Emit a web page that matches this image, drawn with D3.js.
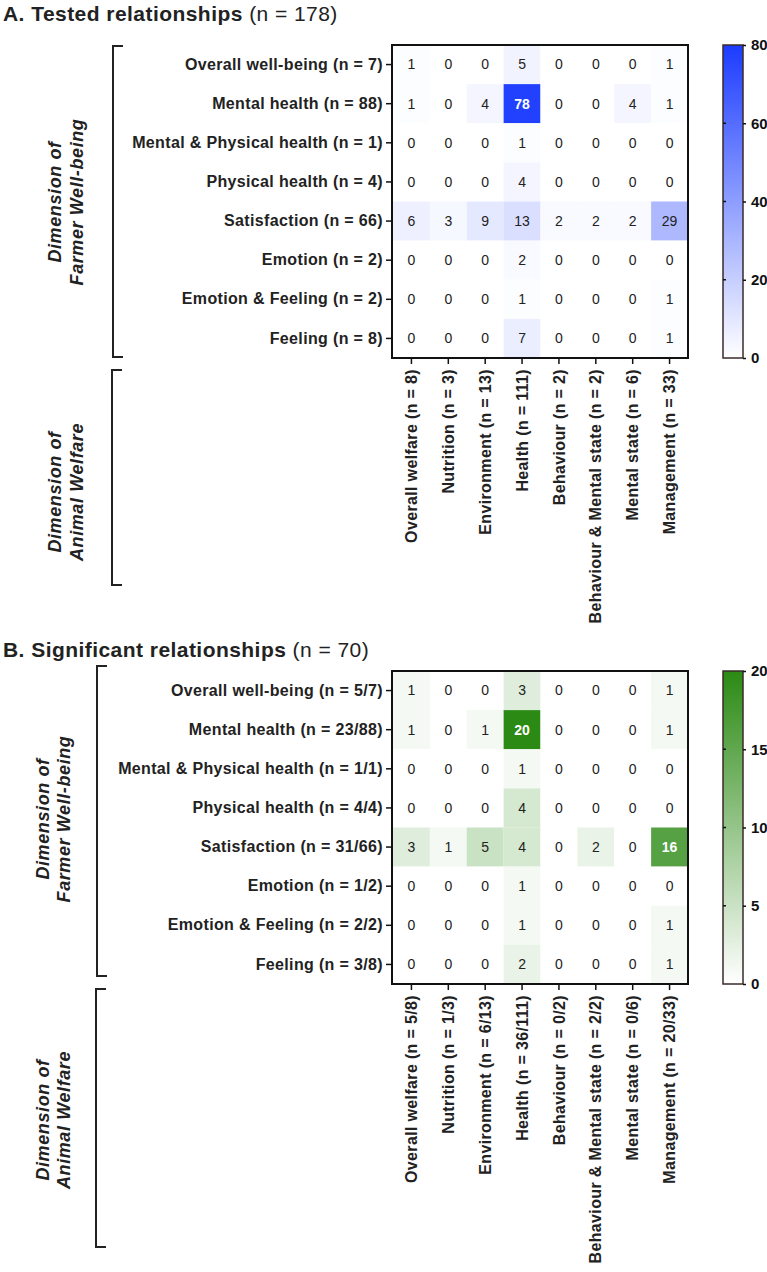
<!DOCTYPE html>
<html>
<head>
<meta charset="utf-8">
<script src="https://cdn.jsdelivr.net/npm/d3@7"></script>
<style>
	body { margin: 0; background: #fff; }
	svg { font-family: "Liberation Sans", Arial, sans-serif; }
</style>
</head>
<body>
<script>
// data
var rowsA = ["Overall well-being (n = 7)", "Mental health (n = 88)", "Mental & Physical health (n = 1)",
	"Physical health (n = 4)", "Satisfaction (n = 66)", "Emotion (n = 2)", "Emotion & Feeling (n = 2)", "Feeling (n = 8)"];
var colsA = ["Overall welfare (n = 8)", "Nutrition (n = 3)", "Environment (n = 13)", "Health (n = 111)",
	"Behaviour (n = 2)", "Behaviour & Mental state (n = 2)", "Mental state (n = 6)", "Management (n = 33)"];
var valuesA = [
	[1, 0, 0, 5, 0, 0, 0, 1],
	[1, 0, 4, 78, 0, 0, 4, 1],
	[0, 0, 0, 1, 0, 0, 0, 0],
	[0, 0, 0, 4, 0, 0, 0, 0],
	[6, 3, 9, 13, 2, 2, 2, 29],
	[0, 0, 0, 2, 0, 0, 0, 0],
	[0, 0, 0, 1, 0, 0, 0, 1],
	[0, 0, 0, 7, 0, 0, 0, 1]
];
var ticksA = [0, 20, 40, 60, 80];

var rowsB = ["Overall well-being (n = 5/7)", "Mental health (n = 23/88)", "Mental & Physical health (n = 1/1)",
	"Physical health (n = 4/4)", "Satisfaction (n = 31/66)", "Emotion (n = 1/2)", "Emotion & Feeling (n = 2/2)", "Feeling (n = 3/8)"];
var colsB = ["Overall welfare (n = 5/8)", "Nutrition (n = 1/3)", "Environment (n = 6/13)", "Health (n = 36/111)",
	"Behaviour (n = 0/2)", "Behaviour & Mental state (n = 2/2)", "Mental state (n = 0/6)", "Management (n = 20/33)"];
var valuesB = [
	[1, 0, 0, 3, 0, 0, 0, 1],
	[1, 0, 1, 20, 0, 0, 0, 1],
	[0, 0, 0, 1, 0, 0, 0, 0],
	[0, 0, 0, 4, 0, 0, 0, 0],
	[3, 1, 5, 4, 0, 2, 0, 16],
	[0, 0, 0, 1, 0, 0, 0, 0],
	[0, 0, 0, 1, 0, 0, 0, 1],
	[0, 0, 0, 2, 0, 0, 0, 1]
];
var ticksB = [0, 5, 10, 15, 20];

var w = 767, h = 1272;
var font = "'Liberation Sans', Arial, sans-serif";
var svg = d3.select("body").append("svg").attr("width", w).attr("height", h);

function drawPanel(p) {
	var g = svg.append("g");

	// title
	var t = g.append("text").attr("x", 3).attr("y", p.titleY)
		.style("font-size", "21px").style("letter-spacing", "0.45px").attr("fill", "#222");
	t.append("tspan").style("font-weight", "bold").text(p.title);
	t.append("tspan").text(" " + p.titleN);

	var x = d3.scaleBand().domain(d3.range(p.cols.length)).range([393, 688]);
	var y = d3.scaleBand().domain(d3.range(p.rows.length)).range([p.top, p.top + 313]);
	var color = d3.scaleLinear().domain([0, p.max]).range(["#ffffff", p.color]);

	var cells = [];
	p.values.forEach(function(r, i) {
		r.forEach(function(v, j) { cells.push({ r: i, c: j, v: v }); });
	});

	g.selectAll("rect.cell").data(cells).enter().append("rect")
		.attr("class", "cell")
		.attr("x", function(d) { return x(d.c); })
		.attr("y", function(d) { return y(d.r); })
		.attr("width", x.bandwidth())
		.attr("height", y.bandwidth())
		.attr("fill", function(d) { return color(d.v); });

	g.selectAll("text.val").data(cells).enter().append("text")
		.attr("class", "val")
		.attr("x", function(d) { return x(d.c) + x.bandwidth() / 2; })
		.attr("y", function(d) { return y(d.r) + y.bandwidth() / 2; })
		.attr("dy", "0.35em")
		.attr("text-anchor", "middle")
		.style("font-size", "14px")
		.style("font-weight", function(d) { return d.v > p.max * 0.6 ? "bold" : "normal"; })
		.attr("fill", function(d) { return d.v > p.max * 0.6 ? "#fff" : "#222"; })
		.text(function(d) { return d.v; });

	// frame
	g.append("rect").attr("x", 392).attr("y", p.top).attr("width", 296).attr("height", 313)
		.attr("fill", "none").attr("stroke", "#111").attr("stroke-width", 2);

	var yAxis = d3.axisLeft(y).tickSize(6).tickPadding(3).tickFormat(function(i) { return p.rows[i]; });
	var ya = g.append("g").attr("transform", "translate(392,0)").call(yAxis);
	ya.select(".domain").remove();
	ya.selectAll("line").attr("stroke", "#111").attr("stroke-width", 1.5);
	ya.selectAll("text").style("font-size", "16px").style("font-weight", "bold")
		.style("letter-spacing", "0.35px")
		.style("font-family", font).attr("fill", "#222");

	var xAxis = d3.axisBottom(x).tickSize(6).tickFormat(function(i) { return p.cols[i]; });
	var xa = g.append("g").attr("transform", "translate(0," + (p.top + 313) + ")").call(xAxis);
	xa.select(".domain").remove();
	xa.selectAll("line").attr("stroke", "#111").attr("stroke-width", 1.5);
	xa.selectAll("text")
		.attr("transform", "rotate(-90)")
		.attr("x", -11).attr("y", 0).attr("dy", "0.35em")
		.style("text-anchor", "end")
		.style("font-size", "16px").style("font-weight", "bold")
		.style("letter-spacing", "0.35px")
		.style("font-family", font).attr("fill", "#222");

	// colour bar
	var gid = "grad" + p.id;
	var grad = svg.append("defs").append("linearGradient").attr("id", gid)
		.attr("x1", "0").attr("y1", "1").attr("x2", "0").attr("y2", "0");
	grad.append("stop").attr("offset", "0%").attr("stop-color", color(0));
	grad.append("stop").attr("offset", "100%").attr("stop-color", color(p.max));

	var cb = d3.scaleLinear().domain([0, p.max]).range([p.top + 313, p.top]);
	g.append("rect").attr("x", 723).attr("y", p.top).attr("width", 20).attr("height", 313)
		.attr("fill", "url(#" + gid + ")").attr("stroke", "#3a2a2a").attr("stroke-width", 1.5);

	var cAxis = d3.axisRight(cb).tickValues(p.ticks).tickSize(3).tickPadding(5);
	var ca = g.append("g").attr("transform", "translate(743,0)").call(cAxis);
	ca.select(".domain").remove();
	ca.selectAll("line").attr("stroke", "#111").attr("stroke-width", 1.5);
	ca.selectAll("text").style("font-size", "15px").style("font-weight", "bold")
		.style("font-family", font).attr("fill", "#111");
	g.selectAll("line.inner").data(p.ticks.slice(1, -1)).enter().append("line")
		.attr("class", "inner")
		.attr("x1", 723).attr("x2", 726)
		.attr("y1", function(d) { return cb(d); }).attr("y2", function(d) { return cb(d); })
		.attr("stroke", "#111").attr("stroke-width", 1.5);

	// brackets
	p.brackets.forEach(function(b) {
		g.append("path")
			.attr("d", "M" + (b.x + 10) + "," + b.y0 + "H" + b.x + "V" + b.y1 + "H" + (b.x + 10))
			.attr("fill", "none").attr("stroke", "#222").attr("stroke-width", 2);
		var lt = g.append("text")
			.attr("transform", "translate(" + b.tx + "," + b.ty + ") rotate(-90)")
			.attr("text-anchor", "middle")
			.style("font-size", "18px").style("font-weight", "bold").style("font-style", "italic")
			.style("letter-spacing", "0.6px")
			.attr("fill", "#222");
		lt.append("tspan").attr("x", 0).attr("y", 0).text("Dimension of");
		lt.append("tspan").attr("x", 0).attr("y", b.lh).text(b.label);
	});
}

drawPanel({
	id: "A", title: "A. Tested relationships", titleN: "(n = 178)", titleY: 21,
	top: 45, rows: rowsA, cols: colsA, values: valuesA, max: 80, ticks: ticksA, color: "#1c3cff",
	brackets: [
		{ x: 113, y0: 46, y1: 357, tx: 61, ty: 202, lh: 22, label: "Farmer Well-being" },
		{ x: 112, y0: 370, y1: 585, tx: 61, ty: 492, lh: 22, label: "Animal Welfare" }
	]
});

drawPanel({
	id: "B", title: "B. Significant relationships", titleN: "(n = 70)", titleY: 657,
	top: 671, rows: rowsB, cols: colsB, values: valuesB, max: 20, ticks: ticksB, color: "#2b8a14",
	brackets: [
		{ x: 97, y0: 666, y1: 976, tx: 49, ty: 819, lh: 21, label: "Farmer Well-being" },
		{ x: 96, y0: 989, y1: 1247, tx: 49, ty: 1120, lh: 21, label: "Animal Welfare" }
	]
});
</script>
</body>
</html>
